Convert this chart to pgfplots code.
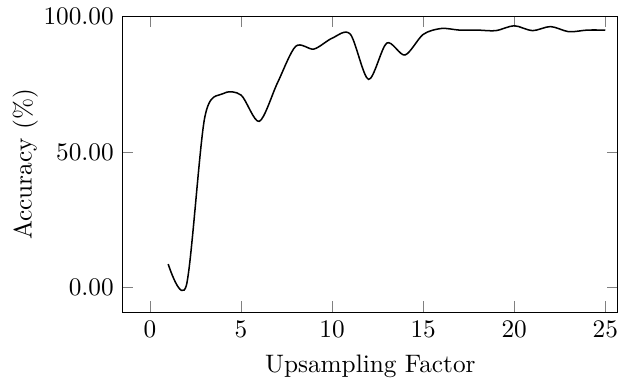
\documentclass[border=0pt]{standalone}
\usepackage{pgfplots}
\pgfplotsset{compat=1.18}
\begin{document}
\begin{tikzpicture}[trim axis right]
\begin{axis}[
  scale only axis,
  width=196pt, height=117pt,
  xmin=-1.5, xmax=25.7,
  ymin=-9.2, ymax=100,
  xtick={0,5,10,15,20,25},
  ytick={0,50,100},
  yticklabel style={/pgf/number format/.cd, fixed, fixed zerofill, precision=2},
  xlabel={Upsampling Factor},
  ylabel={Accuracy (\%)},
  ylabel style={inner ysep=5pt},
  ylabel shift=-6.3pt,
]
\addplot[black, semithick, smooth] coordinates {
(1,8.6) (2,0.8) (3,62.5) (4,71.5) (5,71) (6,61.3) (7,75.5) (8,89) (9,88)
(10,92) (11,93.5) (12,76.8) (13,90.2) (14,85.8) (15,93.4) (16,95.6)
(17,95) (18,95) (19,94.8) (20,96.6) (21,94.8) (22,96.3) (23,94.4)
(24,95) (25,95)
};
\end{axis}
\end{tikzpicture}
\end{document}
